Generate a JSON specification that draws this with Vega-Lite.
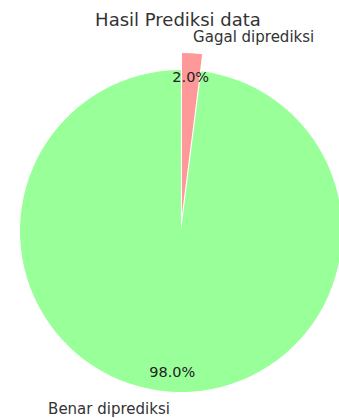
{
  "$schema": "https://vega.github.io/schema/vega-lite/v6.json",
  "width": 322,
  "height": 322,
  "autosize": {"type": "none"},
  "padding": {"left": 20, "top": 70, "right": 0, "bottom": 26},
  "background": "white",
  "title": {"text": "Hasil Prediksi data", "fontSize": 18, "font": "DejaVu Sans", "fontWeight": "normal", "color": "#333333", "anchor": "middle", "offset": 0, "dx": -3},
  "config": {"view": {"stroke": null}},
  "data": {"values": [
    {"label": "Benar diprediksi", "share": 0.98},
    {"label": "Gagal diprediksi", "share": 0.02}
  ]},
  "encoding": {
    "theta": {"field": "share", "type": "quantitative", "stack": true, "scale": {"domain": [0, 1]}},
    "order": {"field": "share", "sort": "ascending"}
  },
  "layer": [
    {
      "mark": {"type": "arc"},
      "encoding": {
        "color": {"field": "label", "type": "nominal", "scale": {"domain": ["Benar diprediksi", "Gagal diprediksi"], "range": ["#99ff99", "#ff9999"]}, "legend": null},
        "opacity": {"condition": {"test": "datum.label === 'Benar diprediksi'", "value": 1}, "value": 0}
      }
    },
    {
      "mark": {"type": "arc", "xOffset": 1, "yOffset": -17},
      "encoding": {
        "color": {"field": "label", "type": "nominal", "legend": null},
        "opacity": {"condition": {"test": "datum.label === 'Gagal diprediksi'", "value": 1}, "value": 0}
      }
    },
    {
      "mark": {"type": "text", "radius": 139, "dy": 3, "font": "DejaVu Sans", "fontSize": 14.5, "color": "#222222"},
      "encoding": {
        "text": {"field": "share", "type": "quantitative", "format": ".1%"},
        "opacity": {"condition": {"test": "datum.label === 'Benar diprediksi'", "value": 1}, "value": 0}
      }
    },
    {
      "mark": {"type": "text", "radius": 139, "dy": 3, "xOffset": 1, "yOffset": -17, "font": "DejaVu Sans", "fontSize": 14.5, "color": "#222222"},
      "encoding": {
        "text": {"field": "share", "type": "quantitative", "format": ".1%"},
        "opacity": {"condition": {"test": "datum.label === 'Gagal diprediksi'", "value": 1}, "value": 0}
      }
    },
    {
      "mark": {"type": "text", "radius": 177, "dy": 1, "align": "right", "font": "DejaVu Sans", "fontSize": 15, "color": "#333333"},
      "encoding": {
        "text": {"field": "label", "type": "nominal"},
        "opacity": {"condition": {"test": "datum.label === 'Benar diprediksi'", "value": 1}, "value": 0}
      }
    },
    {
      "mark": {"type": "text", "radius": 177, "align": "left", "xOffset": 1, "yOffset": -17, "font": "DejaVu Sans", "fontSize": 15, "color": "#333333"},
      "encoding": {
        "text": {"field": "label", "type": "nominal"},
        "opacity": {"condition": {"test": "datum.label === 'Gagal diprediksi'", "value": 1}, "value": 0}
      }
    }
  ]
}
